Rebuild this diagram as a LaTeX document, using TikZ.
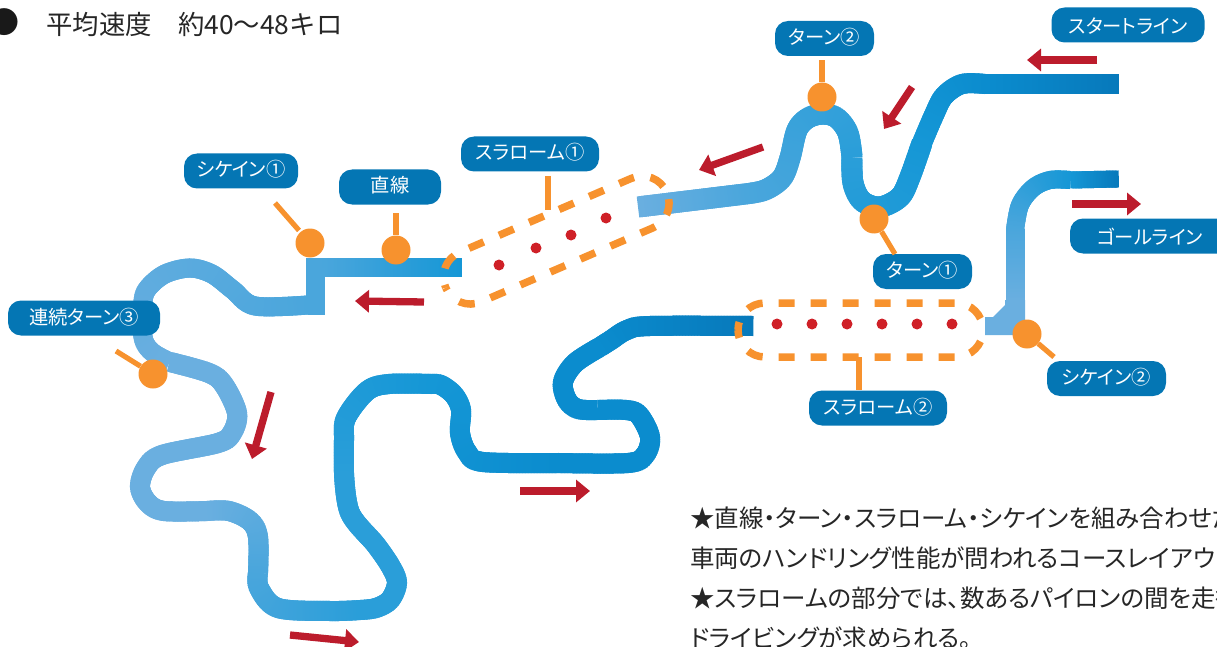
\documentclass[tikz,border=0pt]{standalone}
\usepackage{fontspec}
\setmainfont{Noto Sans CJK JP}
\newfontfamily\cjkprop{Noto Sans CJK JP}[RawFeature=+palt]
\usetikzlibrary{arrows.meta,decorations.markings}

\definecolor{tkdark}{HTML}{0779BB}
\definecolor{tkdeep}{HTML}{0B8CCE}
\definecolor{tkmid}{HTML}{1597D6}
\definecolor{tksky}{HTML}{2A9ED9}
\definecolor{tkpale}{HTML}{4AA6DC}
\definecolor{tklight}{HTML}{6AAFE0}
\definecolor{lblblue}{HTML}{0476B4}
\definecolor{conesorange}{HTML}{F7922E}
\definecolor{arrowred}{HTML}{BC1C2C}
\definecolor{pylonred}{HTML}{CF2027}

\tikzset{
	trackpiece/.style n args={3}{decorate, decoration={markings,
		mark=between positions 1pt and -1pt step 1.5pt with {
			\pgfmathsetmacro\mixpct{100*(\pgfkeysvalueof{/pgf/decoration/mark info/distance from start}/\pgfdecoratedpathlength)}
			\fill[fill=#2!\mixpct!#1] (-1.8,-#3) rectangle (1.8,#3);
		}}},
	lbl/.style={fill=lblblue, text=white, rounded corners=13pt, inner sep=0pt, minimum height=35pt,
		text height=15pt, text depth=3pt, font=\cjkprop\fontsize{19.3}{20}\selectfont},
	coursept/.style={circle, fill=conesorange, inner sep=0pt, minimum size=29pt},
	stem/.style={draw=conesorange, line width=5.2pt},
	pylon/.style={circle, fill=pylonred, inner sep=0pt, minimum size=11pt},
	redarrow/.style={draw=arrowred, line width=7.3pt, -{Triangle[length=14pt,width=22pt,fill=arrowred]}},
	dashring/.style={draw=conesorange, line width=7.5pt, dash pattern=on 16pt off 16pt}
}
\def\slalomtube[#1](#2)(#3:#4){
	\begin{scope}[shift={(#2)}, rotate=#3]
		\draw[dashring,#1] (0,0) .. controls (0,-15) and (12,-27) .. (27,-27) -- ({#4-27},-27) .. controls ({#4-12},-27) and (#4,-15) .. (#4,0);
		\draw[dashring,#1] (0,0) .. controls (0,15) and (12,27) .. (27,27) -- ({#4-27},27) .. controls ({#4-12},27) and (#4,15) .. (#4,0);
	\end{scope}
}

\begin{document}
\begin{tikzpicture}[x=1pt,y=-1pt]
	%%%%% START %%%%%
	\useasboundingbox (0,0) rectangle (1217,647);
	\clip (0,0) rectangle (1217,647);

	% start line to slalom 1
	\path[trackpiece={tkdark}{tkdeep}{10}] (1118,84) -- (985,84);
	\path[trackpiece={tkdeep}{tkmid}{10}] plot[smooth,tension=.55] coordinates {(985,84) (962,84) (944,96) (934,115) (922,143)};
	\path[trackpiece={tkmid}{tksky}{10.5}] plot[smooth,tension=.55] coordinates {(922,143) (910,177) (900,197) (880,207) (862,201) (853,183) (852,157)};
	\path[trackpiece={tksky}{tkpale}{10.5}] plot[smooth,tension=.55] coordinates {(852,157) (848,133) (837,118) (823,114) (808,118) (797,130) (790,158) (782,178) (765,190) (745,194)};
	\path[trackpiece={tkpale}{tklight}{10.5}] (745,194) -- (638,207);

	% straight, step and the long run
	\path[trackpiece={tkmid}{tkpale}{9.5}] (461,267) -- (322,267);
	\draw[draw=tkpale, line width=19pt, miter limit=10] (322,267) -- (315,267) -- (315,305) -- (308,305);
	\path[trackpiece={tkpale}{tklight}{9.5}] plot[smooth,tension=.55] coordinates {(308,305) (255,306) (233,290) (212,274) (190,268) (165,274) (148,288) (143,302) (143,337) (152,352) (170,362)};
	\path[trackpiece={tklight}{tklight}{10}] plot[smooth,tension=.55] coordinates {(170,362) (209,373) (224,385) (237,413) (232,433) (218,443) (162,455) (146,468) (140,487) (148,503) (164,511) (207,511)};
	\path[trackpiece={tklight}{tkpale}{10}] plot[smooth,tension=.55] coordinates {(207,511) (229,511) (250,521) (258,537) (258,573)};
	\path[trackpiece={tkpale}{tksky}{10}] plot[smooth,tension=.55] coordinates {(258,573) (259,588) (278,608) (330,611) (360,610)};
	\path[trackpiece={tksky}{tksky}{10}] plot[smooth,tension=.55] coordinates {(360,610) (376,608) (390,600) (397,583) (391,567) (376,545) (350,513) (344,473)};
	\path[trackpiece={tksky}{tkmid}{10}] plot[smooth,tension=.55] coordinates {(344,473) (344,440) (346,418) (367,391) (389,384) (431,384)};
	\path[trackpiece={tkmid}{tkdeep}{10}] plot[smooth,tension=.55] coordinates {(431,384) (441,385) (454,395) (461,410) (460,433) (467,452) (483,462) (559,463)};
	\path[trackpiece={tkdeep}{tkdeep}{10}] plot[smooth,tension=.55] coordinates {(559,463) (628,463) (645,455) (650,437) (639,415) (626,410) (597,410)};
	\path[trackpiece={tkdeep}{tkdeep}{10}] plot[smooth,tension=.55] coordinates {(597,410) (578,409) (567,400) (563,382) (575,363) (600,347)};
	\path[trackpiece={tkdeep}{tkdark}{10}] plot[smooth,tension=.55] coordinates {(600,347) (611,340) (627,330) (650,326) (753,326)};

	% goal line
	\path[trackpiece={tkdark}{tkmid}{8.5}] (1118,179) -- (1070,180);
	\path[trackpiece={tkmid}{tkpale}{9}] plot[smooth,tension=.55] coordinates {(1070,180) (1050,180) (1033,188) (1020,205) (1015,230)};
	\path[trackpiece={tkpale}{tklight}{9.5}] (1015,230) -- (1015,303);
	\fill[tklight] (985,317) -- (993,317) -- (1005,305) -- (1005,300) -- (1025,300) -- (1025,335) -- (985,335) -- cycle;

	% slaloms
	\slalomtube[dash pattern=on 16pt off 16.7pt, dash phase=13pt](445.7,287.7)(23.3:240.8)
	\slalomtube[dash phase=8pt](738,330)(0:245)
	\foreach \px/\py in {499/265, 536/248, 571/235, 606/218, 777/324, 812/324, 847/324, 882/324, 917/324, 952/324}
		\node[pylon] (pyl\px) at (\px,\py) {};

	% red direction arrows
	\foreach \xa/\ya/\xb/\yb in {1097/60/1027/60, 912/87/884/129, 763/147/699/170, 1072/204/1141/204, 424/302/355/301, 271/392/252/459, 520/491/590/491, 290/635/359/642}
		\draw[redarrow] (\xa,\ya) -- (\xb,\yb);

	% labels
	\node[lbl, minimum width=153pt, text height=18pt, text depth=0pt] (lblstart) at (1128,25) {スタートライン};
	\node[lbl, minimum width=160pt, text height=16pt, text depth=0pt] (lblgoal) at (1150,236) {ゴールライン};
	\node[lbl, minimum width=99pt] (lblturnb) at (824.5,38.5) {ターン②};
	\node[lbl, minimum width=99pt] (lblturna) at (922.5,271.5) {ターン①};
	\node[lbl, minimum width=138pt] (lblslaloma) at (530,154) {スラローム①};
	\node[lbl, minimum width=138pt] (lblslalomb) at (878,408) {スラローム②};
	\node[lbl, minimum width=114pt] (lblchicanea) at (241,171) {シケイン①};
	\node[lbl, minimum width=119pt] (lblchicaneb) at (1106.5,378.5) {シケイン②};
	\node[lbl, minimum width=102pt] (lblstraight) at (390,187) {直線};
	\node[lbl, minimum width=152pt] (lblturnc) at (84,318) {連続ターン③};

	% orange points and stems
	\node[coursept] (ptchicanea) at (310,243) {};
	\node[coursept] (ptstraight) at (396,250) {};
	\node[coursept] (ptturnc) at (153,374) {};
	\node[coursept] (ptturnb) at (822,97) {};
	\node[coursept] (ptturna) at (874,219) {};
	\node[coursept] (ptchicaneb) at (1027,334) {};
	\coordinate (endchicanea) at (275,203);
	\coordinate (endstraight) at (396,213);
	\coordinate (endturnc) at (116,351);
	\coordinate (endturnb) at (822,60);
	\coordinate (endturna) at (895,254);
	\coordinate (endchicaneb) at (1054,357);
	\coordinate (topslaloma) at (548,176);
	\coordinate (botslaloma) at (548,210);
	\coordinate (topslalomb) at (859,357);
	\draw[stem, shorten <=2pt] (ptchicanea) -- (endchicanea);
	\draw[stem] (ptstraight) -- (endstraight);
	\draw[stem] (ptturnc) -- (endturnc);
	\draw[stem] (ptturnb) -- (endturnb);
	\draw[stem] (ptturna) -- (endturna);
	\draw[stem] (ptchicaneb) -- (endchicaneb);
	\draw[stem] (topslaloma) -- (botslaloma);
	\draw[stem] (topslalomb) -- (topslalomb |- lblslalomb.north);

	% texts
	\node[inner sep=0pt, text=black!90, font=\fontsize{30}{30}\selectfont] (headbullet) at (5,22) {●};
	\node[anchor=west, inner sep=0pt, text=black!85, font=\fontsize{26.4}{30}\selectfont] (heading) at (46,24) {平均速度　約40〜48キロ};
	\node[anchor=north west, inner sep=0pt, align=left, text=black!85, font=\cjkprop\fontsize{24.5}{40}\selectfont] (notes) at (690,507) {★直線・ターン・スラローム・シケインを組み合わせた\\車両のハンドリング性能が問われるコースレイアウ\\★スラロームの部分では、数あるパイロンの間を走行\\ドライビングが求められる。};
	%%%%% END %%%%%
\end{tikzpicture}
\end{document}
